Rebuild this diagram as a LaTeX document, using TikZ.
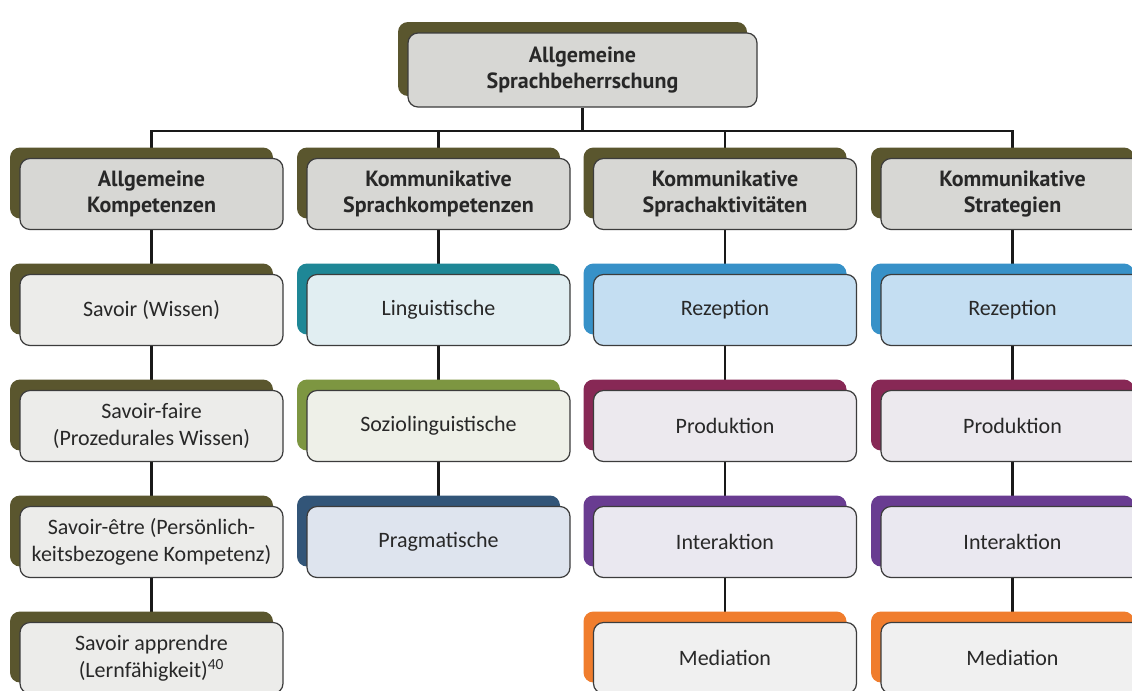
\documentclass[tikz,border=0pt]{standalone}
\usepackage{fontspec}
\setmainfont{Carlito}
\newfontfamily\hdrfont{PT Sans}
\usetikzlibrary{shadows}
\pgfdeclarelayer{background}
\pgfsetlayers{background,main}
\definecolor{txt}{RGB}{40,40,40}
\definecolor{edge}{RGB}{60,60,60}
\definecolor{hdrfill}{RGB}{215,215,212}
\definecolor{olivesh}{RGB}{90,86,46}
\definecolor{c1fill}{RGB}{236,236,234}
\definecolor{tealsh}{RGB}{30,135,150}
\definecolor{tealfill}{RGB}{225,238,242}
\definecolor{greensh}{RGB}{125,150,65}
\definecolor{greenfill}{RGB}{238,240,232}
\definecolor{navysh}{RGB}{50,85,120}
\definecolor{navyfill}{RGB}{222,228,238}
\definecolor{bluesh}{RGB}{55,145,200}
\definecolor{bluefill}{RGB}{196,222,242}
\definecolor{maroonsh}{RGB}{135,40,85}
\definecolor{maroonfill}{RGB}{236,233,238}
\definecolor{purplesh}{RGB}{105,60,145}
\definecolor{purplefill}{RGB}{234,232,240}
\definecolor{orangesh}{RGB}{240,125,45}
\definecolor{orangefill}{RGB}{240,240,240}
\tikzset{
  box/.style={draw=edge, line width=0.9pt, rounded corners=7.5pt, inner sep=0pt,
    minimum width=197.25pt, minimum height=53.25pt, align=center, text=txt,
    general shadow={fill=#1, shadow xshift=-7.5pt, shadow yshift=8.25pt}},
  hdr/.style={box=olivesh, fill=hdrfill, font=\hdrfont\bfseries\fontsize{16.5}{20}\selectfont},
  item/.style 2 args={box=#1, fill=#2, font=\fontsize{16.5}{20.5}\selectfont},
  link/.style={line width=1.7pt, black!90}
}
\begin{document}
\begin{tikzpicture}[x=0.75pt, y=-0.75pt]
\useasboundingbox (0,0) rectangle (1132,690);
% top
\node[hdr, minimum width=261.75pt, minimum height=55.5pt] (top) at (582.5,70) {Allgemeine\\Sprachbeherrschung};
% headers
\node[hdr] (h1) at (151.5,194) {Allgemeine\\Kompetenzen};
\node[hdr] (h2) at (438.5,194) {Kommunikative\\Sprachkompetenzen};
\node[hdr] (h3) at (725,194) {Kommunikative\\Sprachaktivitäten};
\node[hdr] (h4) at (1012.5,194) {Kommunikative\\Strategien};
% column 1
\node[item={olivesh}{c1fill}] (a1) at (151.5,310) {Savoir (Wissen)};
\node[item={olivesh}{c1fill}] (a2) at (151.5,426) {Savoir-faire\\(Prozedurales Wissen)};
\node[item={olivesh}{c1fill}] (a3) at (151.5,542) {Savoir-être (Persönlich-\\keitsbezogene Kompetenz)};
\node[item={olivesh}{c1fill}] (a4) at (151.5,658) {Savoir apprendre\\(Lernfähigkeit)\textsuperscript{40}};
% column 2
\node[item={tealsh}{tealfill}] (b1) at (438.5,310) {Linguistische};
\node[item={greensh}{greenfill}] (b2) at (438.5,426) {Soziolinguistische};
\node[item={navysh}{navyfill}] (b3) at (438.5,542) {Pragmatische};
% column 3
\node[item={bluesh}{bluefill}] (c1) at (725,310) {Rezeption};
\node[item={maroonsh}{maroonfill}] (c2) at (725,426) {Produktion};
\node[item={purplesh}{purplefill}] (c3) at (725,542) {Interaktion};
\node[item={orangesh}{orangefill}] (c4) at (725,658) {Mediation};
% column 4
\node[item={bluesh}{bluefill}] (d1) at (1012.5,310) {Rezeption};
\node[item={maroonsh}{maroonfill}] (d2) at (1012.5,426) {Produktion};
\node[item={purplesh}{purplefill}] (d3) at (1012.5,542) {Interaktion};
\node[item={orangesh}{orangefill}] (d4) at (1012.5,658) {Mediation};
\coordinate (bus) at (582.5,131);
\begin{pgfonlayer}{background}
\fill[white] (0,0) rectangle (1132,690);
\draw[link] (top.south) -- (top.south |- bus);
\draw[link] (h1.north) |- (h4.north |- bus) -- (h4.north);
\draw[link] (h2.north) -- (h2.north |- bus);
\draw[link] (h3.north) -- (h3.north |- bus);
\draw[link] (h1.south) -- (a1.north);
\draw[link] (a1.south) -- (a2.north);
\draw[link] (a2.south) -- (a3.north);
\draw[link] (a3.south) -- (a4.north);
\draw[link] (h2.south) -- (b1.north);
\draw[link] (b1.south) -- (b2.north);
\draw[link] (b2.south) -- (b3.north);
\draw[link] (h3.south) -- (c1.north);
\draw[link] (c1.south) -- (c2.north);
\draw[link] (c2.south) -- (c3.north);
\draw[link] (c3.south) -- (c4.north);
\draw[link] (h4.south) -- (d1.north);
\draw[link] (d1.south) -- (d2.north);
\draw[link] (d2.south) -- (d3.north);
\draw[link] (d3.south) -- (d4.north);
\end{pgfonlayer}
\end{tikzpicture}
\end{document}
